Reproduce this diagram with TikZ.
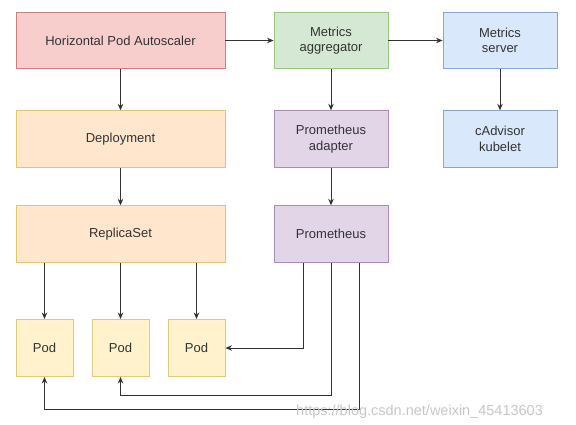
\documentclass[tikz,border=0pt]{standalone}
\usepackage{fontspec}
\setsansfont{Liberation Sans}
\usetikzlibrary{arrows.meta}
\tikzset{every picture/.style={/utils/exec={\sffamily}}}
\definecolor{redfill}{HTML}{F8CECC}\definecolor{redline}{HTML}{C9827F}
\definecolor{orgfill}{HTML}{FFE6CC}\definecolor{orgline}{HTML}{E0C76E}
\definecolor{grnfill}{HTML}{D5E8D4}\definecolor{grnline}{HTML}{9CC483}
\definecolor{purfill}{HTML}{E1D5E7}\definecolor{purline}{HTML}{A98DB8}
\definecolor{blufill}{HTML}{DAE8FC}\definecolor{bluline}{HTML}{8AA6CF}
\definecolor{ylwfill}{HTML}{FFF2CC}\definecolor{ylwline}{HTML}{E0C97A}
\definecolor{txt}{HTML}{333333}

\begin{document}
\begin{tikzpicture}[x=1pt, y=-1pt,
		box/.style={draw, line width=0.9pt, align=center, text=txt,
			font=\fontsize{13}{15.5}\selectfont, inner sep=0pt},
		wide/.style={box, minimum width=209pt, minimum height=56.5pt},
		narrow/.style={box, minimum width=114pt, minimum height=56.5pt},
		podbox/.style={box, fill=ylwfill, draw=ylwline, minimum width=57pt, minimum height=57pt},
		arr/.style={-{Stealth[length=6.5pt, width=5.5pt]}, line width=1pt, draw=txt}]
		\useasboundingbox (0,0) rectangle (576,425);

		\node[wide, fill=redfill, draw=redline] (hpa) at (120.5, 40.5) {Horizontal Pod Autoscaler};
		\node[wide, fill=orgfill, draw=orgline] (dep) at (120.5, 139) {Deployment};
		\node[wide, fill=orgfill, draw=orgline] (rs) at (120.5, 234) {ReplicaSet};

		\node[narrow, fill=grnfill, draw=grnline] (agg) at (331, 40.5) {Metrics\\aggregator};
		\node[narrow, fill=purfill, draw=purline] (adapt) at (331, 139) {Prometheus\\adapter};
		\node[narrow, fill=purfill, draw=purline] (prom) at (331, 234) {Prometheus};

		\node[narrow, fill=blufill, draw=bluline] (ms) at (500, 40.5) {Metrics\\server};
		\node[narrow, fill=blufill, draw=bluline] (cadv) at (500, 139) {cAdvisor\\kubelet};

		\node[podbox] (pod1) at (44.5, 348) {Pod};
		\node[podbox] (pod2) at (120.5, 348) {Pod};
		\node[podbox] (pod3) at (196.5, 348) {Pod};

		\draw[arr] (hpa) -- (agg);
		\draw[arr] (agg) -- (ms);
		\draw[arr] (hpa) -- (dep);
		\draw[arr] (dep) -- (rs);
		\draw[arr] (agg) -- (adapt);
		\draw[arr] (adapt) -- (prom);
		\draw[arr] (ms) -- (cadv);

		\draw[arr] (rs.south -| pod1) -- (pod1);
		\draw[arr] (rs.south -| pod2) -- (pod2);
		\draw[arr] (rs.south -| pod3) -- (pod3);

		\draw[arr] ([xshift=-28pt]prom.south) |- (pod3.east);
		\draw[arr] (prom.south) |- ([yshift=-18.5pt]pod2.south) -- (pod2.south);
		\draw[arr] ([xshift=28pt]prom.south) |- ([yshift=-32.5pt]pod1.south) -- (pod1.south);

		\node[anchor=base west, text=black!22, font=\fontsize{14.5}{16}\selectfont, inner sep=0pt]
			(mark) at (296, 415) {https://blog.csdn.net/weixin\_45413603};

	\end{tikzpicture}
\end{document}
